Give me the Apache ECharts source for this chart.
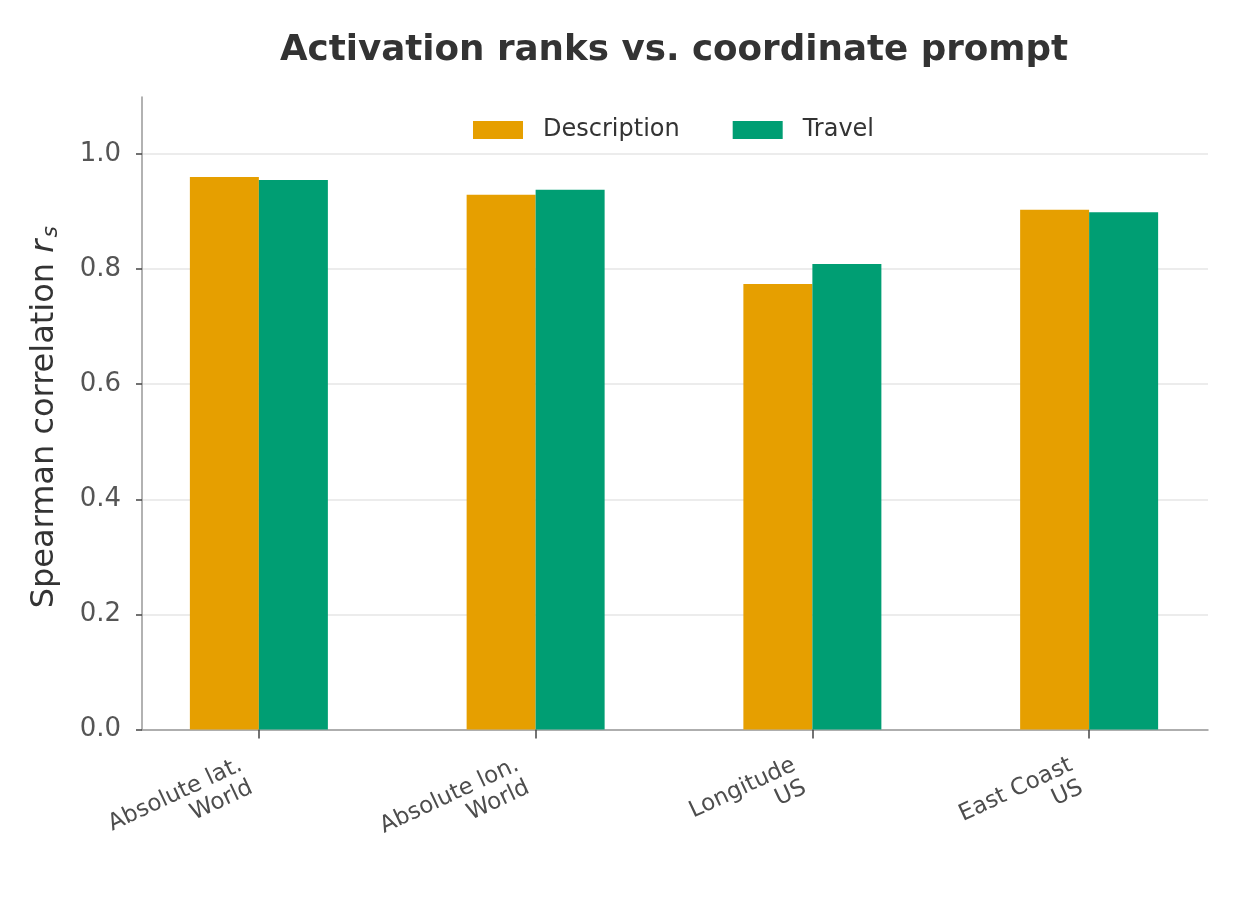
<!DOCTYPE html>
<html>
<head>
<meta charset="utf-8">
<script src="https://cdn.jsdelivr.net/npm/echarts@6/dist/echarts.min.js"></script>
<style>
  html, body { margin: 0; padding: 0; background: #fff; }
  #chart { width: 1240px; height: 900px; }
</style>
</head>
<body>
<div id="chart"></div>
<script>
var categories = ['Absolute lat.\nWorld', 'Absolute lon.\nWorld', 'Longitude\nUS', 'East Coast\nUS'];
var descriptionValues = [0.960, 0.929, 0.774, 0.903];
var travelValues = [0.955, 0.938, 0.809, 0.899];
var yTicks = [0, 0.2, 0.4, 0.6, 0.8, 1.0];

var chart = echarts.init(document.getElementById('chart'));

var font = '"DejaVu Sans", sans-serif';

option = {
	backgroundColor: '#ffffff',
	animation: false,
	title: {
		text: 'Activation ranks vs. coordinate prompt',
		left: 669,
		textAlign: 'center',
		top: 28,
		textStyle: {
			color: '#333333',
			fontFamily: font,
			fontWeight: 'bold',
			fontSize: 35.7
		}
	},
	legend: {
		top: 118,
		left: 473,
		padding: 0,
		itemWidth: 50,
		itemHeight: 18,
		itemGap: 53,
		icon: 'rect',
		textStyle: {
			color: '#333333',
			fontFamily: font,
			fontSize: 24,
			padding: [0, 0, 0, 15]
		},
		data: ['Description', 'Travel']
	},
	grid: [
		// axis lines frame
		{ left: 142, right: 32, top: 97, bottom: 170.5 },
		// y ticks, labels, grid lines
		{ left: 142, right: 32, top: 154, bottom: 170.5 },
		// bars and category ticks
		{ left: 120.5, right: 12.5, top: 154, bottom: 170.5 }
	],
	xAxis: [{
		gridIndex: 0,
		type: 'value',
		min: 0,
		max: 1,
		axisLine: { show: true, lineStyle: { color: '#999999', width: 1.5 } },
		axisTick: { show: false },
		axisLabel: { show: false },
		splitLine: { show: false }
	}, {
		gridIndex: 1,
		type: 'value',
		min: 0,
		max: 1,
		show: false
	}, {
		gridIndex: 2,
		type: 'category',
		data: categories,
		axisLine: { show: false },
		axisTick: { show: true, alignWithLabel: true, length: 9, lineStyle: { color: '#444444', width: 1.5 } },
		axisLabel: {
			rotate: 25,
			margin: 40,
			align: 'right',
			padding: [0, 14, 0, 0],
			color: '#4d4d4d',
			fontFamily: font,
			fontSize: 23,
			lineHeight: 25
		}
	}],
	yAxis: [{
		gridIndex: 0,
		type: 'value',
		min: 0,
		max: 1.1,
		axisLine: { show: true, lineStyle: { color: '#999999', width: 1.5 } },
		axisTick: { show: false },
		axisLabel: { show: false },
		splitLine: { show: false },
		name: '{n|Spearman correlation }{i|r}{s|s}',
		nameLocation: 'middle',
		nameGap: 80,
		nameRotate: 90,
		nameTextStyle: {
			padding: [0, 8, 0, 0],
			rich: {
				n: { fontFamily: font, fontSize: 32, color: '#333333' },
				i: { fontFamily: font, fontSize: 32, fontStyle: 'italic', color: '#333333', padding: [0, 2, 0, 0] },
				s: { fontFamily: font, fontSize: 22, fontStyle: 'italic', color: '#333333', padding: [13, 0, 0, 0] }
			}
		}
	}, {
		gridIndex: 1,
		type: 'value',
		min: yTicks[0],
		max: yTicks[yTicks.length - 1],
		interval: 0.2,
		axisLine: { show: false },
		axisTick: { show: true, length: 6, lineStyle: { color: '#444444', width: 1.5 } },
		axisLabel: {
			margin: 21,
			color: '#555555',
			fontFamily: font,
			fontSize: 26,
			formatter: function (v) { return v.toFixed(1); }
		},
		splitLine: { show: true, lineStyle: { color: '#e6e6e6', width: 1.5 } }
	}, {
		gridIndex: 2,
		type: 'value',
		min: yTicks[0],
		max: yTicks[yTicks.length - 1],
		show: false
	}],
	series: [{
		name: 'Description',
		type: 'bar',
		xAxisIndex: 2,
		yAxisIndex: 2,
		barWidth: 69,
		barGap: '0%',
		itemStyle: { color: '#E69F00' },
		data: descriptionValues
	}, {
		name: 'Travel',
		type: 'bar',
		xAxisIndex: 2,
		yAxisIndex: 2,
		barWidth: 69,
		barGap: '0%',
		itemStyle: { color: '#009E73' },
		data: travelValues
	}]
};
chart.setOption(option);
window.addEventListener('resize', function () {
	chart.resize();
});
</script>
</body>
</html>
